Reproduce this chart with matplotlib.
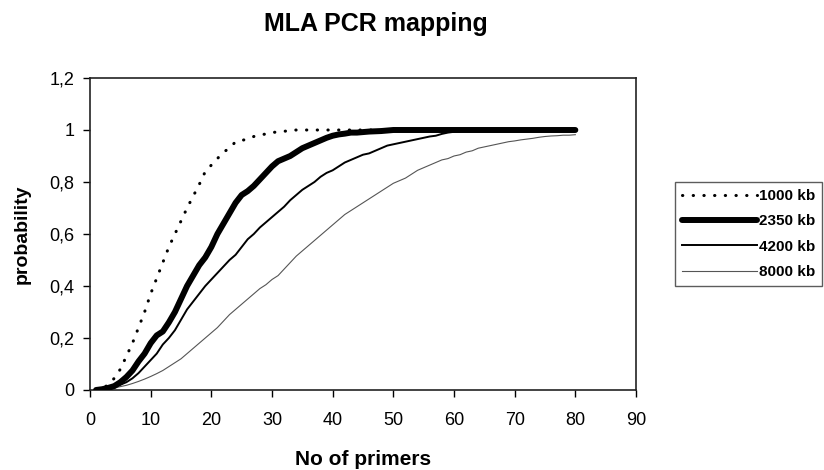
import matplotlib
matplotlib.use("Agg")
import matplotlib.pyplot as plt
from matplotlib.ticker import FuncFormatter

primers = list(range(1, 81))

p_1000 = [0, 0.005, 0.02, 0.045, 0.08, 0.13, 0.18, 0.24, 0.30, 0.37,
          0.43, 0.49, 0.55, 0.60, 0.65, 0.70, 0.745, 0.79, 0.84, 0.865,
          0.89, 0.915, 0.93, 0.955, 0.96, 0.965, 0.975, 0.98, 0.985, 0.99,
          0.993, 0.995, 0.998, 1.0, 1.0, 1.0, 1.0, 1.0, 1.0, 1.0,
          1.0, 1.0, 1.0, 1.0, 1.0, 1.0, 1.0, 1.0, 1.0, 1.0,
          1.0, 1.0, 1.0, 1.0, 1.0, 1.0, 1.0, 1.0, 1.0, 1.0,
          1.0, 1.0, 1.0, 1.0, 1.0, 1.0, 1.0, 1.0, 1.0, 1.0,
          1.0, 1.0, 1.0, 1.0, 1.0, 1.0, 1.0, 1.0, 1.0, 1.0]

p_2350 = [0, 0.003, 0.008, 0.015, 0.03, 0.05, 0.075, 0.11, 0.14, 0.18,
          0.21, 0.225, 0.26, 0.30, 0.35, 0.40, 0.44, 0.48, 0.51, 0.55,
          0.60, 0.64, 0.68, 0.72, 0.75, 0.765, 0.785, 0.81, 0.835, 0.86,
          0.88, 0.89, 0.90, 0.915, 0.93, 0.94, 0.95, 0.96, 0.97, 0.978,
          0.983, 0.986, 0.99, 0.99, 0.992, 0.994, 0.995, 0.996, 0.998, 1.0,
          1.0, 1.0, 1.0, 1.0, 1.0, 1.0, 1.0, 1.0, 1.0, 1.0,
          1.0, 1.0, 1.0, 1.0, 1.0, 1.0, 1.0, 1.0, 1.0, 1.0,
          1.0, 1.0, 1.0, 1.0, 1.0, 1.0, 1.0, 1.0, 1.0, 1.0]

p_4200 = [0, 0.002, 0.006, 0.012, 0.02, 0.03, 0.045, 0.065, 0.09, 0.115,
          0.14, 0.175, 0.20, 0.23, 0.27, 0.31, 0.34, 0.37, 0.40, 0.425,
          0.45, 0.475, 0.50, 0.52, 0.55, 0.58, 0.60, 0.625, 0.645, 0.665,
          0.685, 0.705, 0.73, 0.75, 0.77, 0.785, 0.80, 0.82, 0.835, 0.845,
          0.86, 0.875, 0.885, 0.895, 0.905, 0.91, 0.92, 0.93, 0.94, 0.945,
          0.95, 0.955, 0.96, 0.965, 0.97, 0.975, 0.978, 0.985, 0.99, 0.993,
          0.995, 0.996, 0.997, 0.998, 0.999, 1.0, 1.0, 1.0, 1.0, 1.0,
          1.0, 1.0, 1.0, 1.0, 1.0, 1.0, 1.0, 1.0, 1.0, 1.0]

p_8000 = [0, 0.001, 0.004, 0.008, 0.013, 0.018, 0.025, 0.033, 0.042, 0.052,
          0.063, 0.075, 0.09, 0.105, 0.12, 0.14, 0.16, 0.18, 0.20, 0.22,
          0.24, 0.265, 0.29, 0.31, 0.33, 0.35, 0.37, 0.39, 0.405, 0.425,
          0.44, 0.465, 0.49, 0.515, 0.535, 0.555, 0.575, 0.595, 0.615, 0.635,
          0.655, 0.675, 0.69, 0.705, 0.72, 0.735, 0.75, 0.765, 0.78, 0.795,
          0.805, 0.815, 0.83, 0.845, 0.855, 0.865, 0.875, 0.885, 0.89, 0.90,
          0.905, 0.915, 0.92, 0.93, 0.935, 0.94, 0.945, 0.95, 0.955, 0.958,
          0.962, 0.965, 0.968, 0.972, 0.975, 0.977, 0.978, 0.98, 0.98, 0.982]

labels = ["1000 kb", "2350 kb", "4200 kb", "8000 kb"]
x_ticks = [0, 10, 20, 30, 40, 50, 60, 70, 80, 90]
y_ticks = [0, 0.2, 0.4, 0.6, 0.8, 1.0, 1.2]

plt.rcParams['font.family'] = ['Liberation Sans', 'DejaVu Sans']

fig = plt.figure(figsize=(8.24, 4.70), dpi=100)
ax = fig.add_axes([90/824, 1-390/470, (636-90)/824, (390-78)/470])

ax.plot(primers, p_8000, color='#555555', lw=0.8, label=labels[3], zorder=2)
ax.plot(primers, p_4200, color='black', lw=1.4, label=labels[2], zorder=3)
ax.plot(primers, p_2350, color='black', lw=4.3, label=labels[1], zorder=4,
        solid_capstyle='round')
ax.plot(primers, p_1000, color='black', lw=2.2, ls=(0, (0.1, 3.4)),
        label=labels[0], zorder=5, dash_capstyle='round')

ax.set_xlim(0, 90)
ax.set_ylim(0, 1.2)
ax.set_xticks(x_ticks)
ax.set_yticks(y_ticks)
ax.yaxis.set_major_formatter(FuncFormatter(
    lambda v, p: ('%g' % round(v, 1)).replace('.', ',')))
ax.tick_params(direction='out', length=5, width=1, labelsize=13)
ax.tick_params(axis='x', pad=11)
ax.tick_params(axis='y', pad=6)
for s in ax.spines.values():
    s.set_linewidth(1.2)
    s.set_color('#222222')

fig.text(376/824, 1-24/470, "MLA PCR mapping", fontsize=18,
         fontweight='bold', ha='center', va='center')
ax.set_xlabel("No of primers", fontsize=15, fontweight='bold')
ax.set_ylabel("probability", fontsize=14, fontweight='bold')
ax.xaxis.set_label_coords(0.5, (390-450)/312)
ax.yaxis.set_label_coords((31-90)/546, 0.5)

handles, labs = ax.get_legend_handles_labels()
order = [3, 2, 1, 0]
leg = fig.legend([handles[i] for i in order], [labs[i] for i in order],
                 loc='upper left', bbox_to_anchor=(675/824, 1-182/470),
                 frameon=True, fancybox=False, edgecolor='#333333',
                 prop={'weight': 'heavy', 'size': 11}, handlelength=4.9,
                 handletextpad=0.15, labelspacing=0.75, borderpad=0.45,
                 borderaxespad=0)
leg.get_frame().set_linewidth(1.0)

fig.savefig("out.png", dpi=100)
